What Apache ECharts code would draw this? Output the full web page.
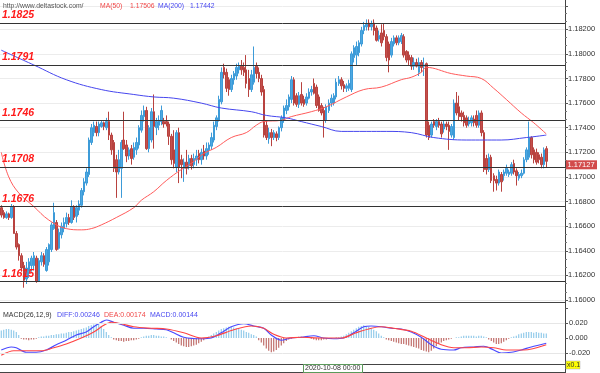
<!DOCTYPE html>
<html><head><meta charset="utf-8">
<script src="https://cdn.jsdelivr.net/npm/echarts@6/dist/echarts.min.js"></script>
<style>html,body{margin:0;padding:0;background:#fff}#c{width:600px;height:373px}</style>
</head><body><div id="c"></div>
<script>
// [open, close, low, high]
const candles = [
[1.1675,1.1669,1.1667,1.1677],[1.1671,1.1667,1.1666,1.1673],[1.1667,1.1670,1.1666,1.1672],[1.1670,1.1667,1.1665,1.1671],
[1.1667,1.1676,1.1666,1.1678],[1.1676,1.1654,1.1654,1.1677],[1.1654,1.1643,1.1641,1.1656],[1.1645,1.1636,1.1632,1.1646],
[1.1636,1.1626,1.1623,1.1638],[1.1628,1.1616,1.1610,1.1631],[1.1617,1.1626,1.1613,1.1631],[1.1623,1.1631,1.1618,1.1634],
[1.1628,1.1634,1.1623,1.1636],[1.1628,1.1636,1.1624,1.1639],[1.1634,1.1615,1.1614,1.1636],[1.1615,1.1632,1.1615,1.1634],
[1.1631,1.1636,1.1628,1.1639],[1.1636,1.1629,1.1627,1.1638],[1.1624,1.1641,1.1623,1.1643],[1.1631,1.1645,1.1628,1.1646],
[1.1641,1.1661,1.1639,1.1663],[1.1658,1.1671,1.1657,1.1679],[1.1663,1.1641,1.1640,1.1665],[1.1642,1.1655,1.1641,1.1658],
[1.1653,1.1660,1.1650,1.1663],[1.1658,1.1663,1.1655,1.1667],[1.1662,1.1667,1.1659,1.1671],[1.1667,1.1663,1.1661,1.1670],
[1.1663,1.1676,1.1662,1.1681],[1.1676,1.1667,1.1665,1.1677],[1.1668,1.1675,1.1663,1.1677],[1.1673,1.1678,1.1669,1.1681],
[1.1677,1.1689,1.1675,1.1691],[1.1688,1.1696,1.1685,1.1699],[1.1695,1.1704,1.1693,1.1707],[1.1702,1.1730,1.1700,1.1732],
[1.1728,1.1740,1.1726,1.1743],[1.1736,1.1742,1.1733,1.1745],[1.1741,1.1736,1.1733,1.1745],[1.1736,1.1743,1.1733,1.1745],
[1.1741,1.1744,1.1740,1.1746],[1.1744,1.1741,1.1738,1.1745],[1.1740,1.1745,1.1738,1.1748],[1.1745,1.1734,1.1730,1.1753],
[1.1734,1.1722,1.1718,1.1736],[1.1728,1.1707,1.1704,1.1730],[1.1714,1.1704,1.1683,1.1718],[1.1704,1.1714,1.1702,1.1722],
[1.1707,1.1728,1.1683,1.1730],[1.1730,1.1723,1.1722,1.1753],[1.1726,1.1717,1.1712,1.1730],[1.1717,1.1722,1.1714,1.1724],
[1.1723,1.1715,1.1710,1.1726],[1.1716,1.1724,1.1714,1.1728],[1.1722,1.1728,1.1718,1.1732],[1.1726,1.1740,1.1723,1.1742],
[1.1738,1.1750,1.1736,1.1754],[1.1749,1.1754,1.1745,1.1758],[1.1754,1.1723,1.1722,1.1757],[1.1723,1.1740,1.1720,1.1742],
[1.1730,1.1753,1.1728,1.1756],[1.1753,1.1741,1.1723,1.1767],[1.1740,1.1745,1.1734,1.1748],[1.1742,1.1746,1.1738,1.1750],
[1.1745,1.1754,1.1742,1.1758],[1.1745,1.1743,1.1740,1.1748],[1.1745,1.1743,1.1741,1.1750],[1.1743,1.1733,1.1726,1.1745],
[1.1733,1.1714,1.1710,1.1735],[1.1722,1.1711,1.1707,1.1738],[1.1708,1.1736,1.1704,1.1738],[1.1736,1.1708,1.1695,1.1740],
[1.1714,1.1710,1.1699,1.1718],[1.1707,1.1712,1.1696,1.1715],[1.1712,1.1707,1.1702,1.1722],[1.1709,1.1715,1.1706,1.1718],
[1.1715,1.1709,1.1706,1.1718],[1.1710,1.1715,1.1707,1.1719],[1.1714,1.1717,1.1709,1.1722],[1.1719,1.1714,1.1711,1.1722],
[1.1714,1.1720,1.1710,1.1723],[1.1721,1.1717,1.1714,1.1726],[1.1717,1.1723,1.1714,1.1728],[1.1722,1.1726,1.1718,1.1728],
[1.1725,1.1732,1.1722,1.1736],[1.1730,1.1742,1.1728,1.1745],[1.1741,1.1748,1.1738,1.1750],[1.1746,1.1763,1.1745,1.1766],
[1.1761,1.1785,1.1759,1.1789],[1.1789,1.1783,1.1780,1.1792],[1.1785,1.1772,1.1769,1.1788],[1.1779,1.1771,1.1766,1.1781],
[1.1771,1.1780,1.1769,1.1783],[1.1779,1.1784,1.1775,1.1786],[1.1782,1.1789,1.1779,1.1792],[1.1787,1.1790,1.1784,1.1793],
[1.1790,1.1787,1.1783,1.1795],[1.1789,1.1785,1.1782,1.1793],[1.1787,1.1776,1.1772,1.1799],[1.1780,1.1771,1.1765,1.1787],
[1.1771,1.1783,1.1769,1.1787],[1.1777,1.1789,1.1775,1.1806],[1.1790,1.1784,1.1780,1.1793],[1.1785,1.1780,1.1777,1.1789],
[1.1780,1.1769,1.1766,1.1783],[1.1771,1.1734,1.1732,1.1774],[1.1742,1.1732,1.1730,1.1746],[1.1731,1.1736,1.1727,1.1740],
[1.1736,1.1732,1.1725,1.1739],[1.1732,1.1736,1.1730,1.1738],[1.1735,1.1732,1.1729,1.1737],[1.1732,1.1740,1.1730,1.1741],
[1.1740,1.1748,1.1737,1.1750],[1.1746,1.1756,1.1744,1.1758],[1.1754,1.1758,1.1751,1.1763],[1.1757,1.1765,1.1754,1.1767],
[1.1763,1.1779,1.1760,1.1782],[1.1779,1.1760,1.1758,1.1781],[1.1766,1.1759,1.1757,1.1768],[1.1759,1.1766,1.1756,1.1769],
[1.1767,1.1760,1.1758,1.1777],[1.1763,1.1759,1.1757,1.1766],[1.1760,1.1765,1.1758,1.1768],[1.1764,1.1769,1.1763,1.1772],
[1.1769,1.1771,1.1766,1.1774],[1.1776,1.1768,1.1767,1.1780],[1.1773,1.1758,1.1756,1.1775],[1.1765,1.1754,1.1753,1.1767],
[1.1758,1.1752,1.1750,1.1760],[1.1754,1.1746,1.1732,1.1757],[1.1746,1.1757,1.1744,1.1759],[1.1754,1.1760,1.1752,1.1763],
[1.1760,1.1764,1.1757,1.1767],[1.1760,1.1766,1.1758,1.1768],[1.1765,1.1777,1.1763,1.1780],[1.1776,1.1779,1.1774,1.1782],
[1.1779,1.1774,1.1771,1.1781],[1.1775,1.1772,1.1769,1.1778],[1.1772,1.1774,1.1769,1.1776],[1.1772,1.1776,1.1770,1.1779],
[1.1771,1.1800,1.1769,1.1802],[1.1797,1.1805,1.1793,1.1807],[1.1799,1.1806,1.1791,1.1810],[1.1801,1.1809,1.1798,1.1811],
[1.1808,1.1819,1.1806,1.1822],[1.1819,1.1823,1.1816,1.1826],[1.1822,1.1824,1.1819,1.1828],[1.1825,1.1822,1.1819,1.1828],
[1.1822,1.1824,1.1819,1.1827],[1.1825,1.1819,1.1815,1.1828],[1.1821,1.1811,1.1810,1.1823],[1.1812,1.1815,1.1810,1.1819],
[1.1817,1.1809,1.1806,1.1824],[1.1819,1.1814,1.1811,1.1825],[1.1814,1.1797,1.1794,1.1816],[1.1808,1.1795,1.1785,1.1810],
[1.1799,1.1810,1.1797,1.1813],[1.1808,1.1813,1.1806,1.1815],[1.1813,1.1809,1.1807,1.1815],[1.1809,1.1813,1.1807,1.1815],
[1.1810,1.1815,1.1808,1.1817],[1.1814,1.1799,1.1797,1.1816],[1.1802,1.1795,1.1793,1.1803],[1.1799,1.1795,1.1791,1.1802],
[1.1797,1.1790,1.1787,1.1799],[1.1790,1.1793,1.1787,1.1797],[1.1793,1.1790,1.1789,1.1796],[1.1785,1.1793,1.1782,1.1797],
[1.1793,1.1789,1.1785,1.1795],[1.1790,1.1791,1.1782,1.1797],[1.1792,1.1734,1.1732,1.1793],[1.1742,1.1732,1.1730,1.1745],
[1.1734,1.1743,1.1732,1.1745],[1.1745,1.1742,1.1740,1.1747],[1.1741,1.1745,1.1738,1.1747],[1.1745,1.1742,1.1740,1.1748],
[1.1743,1.1735,1.1732,1.1745],[1.1739,1.1743,1.1736,1.1746],[1.1743,1.1741,1.1738,1.1745],[1.1742,1.1737,1.1722,1.1745],
[1.1734,1.1741,1.1732,1.1743],[1.1732,1.1760,1.1730,1.1763],[1.1760,1.1752,1.1750,1.1769],[1.1757,1.1749,1.1746,1.1766],
[1.1752,1.1749,1.1745,1.1754],[1.1750,1.1744,1.1741,1.1753],[1.1748,1.1742,1.1740,1.1750],[1.1743,1.1746,1.1741,1.1749],
[1.1744,1.1748,1.1741,1.1750],[1.1747,1.1744,1.1741,1.1750],[1.1750,1.1742,1.1740,1.1754],[1.1742,1.1752,1.1740,1.1754],
[1.1752,1.1736,1.1733,1.1754],[1.1736,1.1706,1.1704,1.1738],[1.1715,1.1706,1.1702,1.1718],[1.1706,1.1716,1.1704,1.1719],
[1.1716,1.1697,1.1695,1.1718],[1.1701,1.1697,1.1688,1.1703],[1.1698,1.1695,1.1689,1.1701],[1.1695,1.1704,1.1693,1.1706],
[1.1702,1.1696,1.1688,1.1704],[1.1701,1.1704,1.1697,1.1706],[1.1703,1.1707,1.1701,1.1710],[1.1702,1.1704,1.1700,1.1706],
[1.1703,1.1710,1.1701,1.1712],[1.1711,1.1704,1.1702,1.1714],[1.1705,1.1701,1.1693,1.1707],[1.1699,1.1702,1.1697,1.1704],
[1.1701,1.1703,1.1699,1.1706],[1.1703,1.1714,1.1702,1.1716],[1.1714,1.1722,1.1712,1.1724],[1.1716,1.1732,1.1714,1.1745],
[1.1732,1.1718,1.1715,1.1733],[1.1722,1.1714,1.1711,1.1724],[1.1720,1.1712,1.1710,1.1723],[1.1718,1.1714,1.1711,1.1720],
[1.1716,1.1710,1.1707,1.1719],[1.1710,1.1722,1.1707,1.1724],[1.1723,1.17127,1.1708,1.1725]
];
const ma50Points = [[0,1.1720],[3,1.1700],[7,1.1687],[13,1.1676],[19,1.1665],[26,1.1658],[32,1.1657],[36,1.1658],[40,1.1661],[46,1.1667],[53,1.1675],[56,1.1681],[61,1.1688],[66,1.1697],[72,1.1706],[76,1.1711],[81,1.1719],[86,1.1724],[92,1.1732],[98,1.1736],[102,1.1742],[105,1.1745],[112,1.1746],[116,1.1749],[124,1.1753],[130,1.1757],[138,1.1765],[145,1.1771],[152,1.1773],[160,1.1779],[164,1.1781],[168,1.1785],[170,1.1789],[180,1.1784],[186,1.1782],[192,1.1780],[197,1.1772],[202,1.1763],[208,1.1752],[213,1.1744],[218,1.1735]];
const ma200Points = [[0,1.1803],[13,1.1791],[26,1.1779],[40,1.1771],[53,1.1767],[61,1.1765],[69,1.1764],[80,1.1760],[88,1.1756],[100,1.1753],[106,1.1750],[114,1.1748],[120,1.1745],[128,1.1741],[136,1.1737],[146,1.1737],[154,1.1737],[164,1.1736],[173,1.1732],[186,1.1730],[200,1.1730],[210,1.1732],[218,1.1734]];
const levels = [1.1825, 1.1791, 1.1746, 1.1708, 1.1676, 1.1615];
const lastPrice = 1.17127;
// MACD pane, values in x0.1 display units
const diffPoints = [[0,-0.016],[4,-0.012],[6,-0.013],[10,-0.019],[14,-0.019],[18,-0.016],[22,-0.009],[26,-0.003],[30,0.004],[34,0.008],[37,0.015],[40,0.021],[42,0.024],[45,0.021],[49,0.017],[53,0.013],[57,0.013],[62,0.012],[66,0.011],[69,0.007],[73,0.001],[80,-0.001],[84,0.000],[88,0.007],[92,0.015],[97,0.019],[101,0.016],[105,0.013],[108,0.004],[112,-0.003],[116,0.000],[120,0.001],[125,0.003],[129,0.000],[133,-0.001],[137,0.000],[141,0.007],[145,0.015],[148,0.016],[152,0.015],[156,0.013],[160,0.012],[164,0.008],[168,0.001],[172,-0.009],[176,-0.015],[181,-0.016],[184,-0.013],[189,-0.012],[193,-0.011],[197,-0.016],[200,-0.020],[204,-0.019],[208,-0.016],[212,-0.012],[218,-0.007]];
const deaPoints = [[0,-0.023],[5,-0.017],[10,-0.017],[16,-0.017],[21,-0.013],[26,-0.008],[32,0.000],[37,0.008],[41,0.017],[44,0.021],[48,0.019],[53,0.015],[60,0.013],[66,0.012],[73,0.007],[80,0.000],[86,0.003],[93,0.011],[100,0.016],[105,0.013],[109,0.005],[114,0.000],[120,0.001],[128,0.000],[136,0.000],[142,0.007],[148,0.013],[152,0.015],[157,0.013],[164,0.009],[170,0.000],[176,-0.009],[181,-0.013],[186,-0.013],[192,-0.012],[197,-0.013],[202,-0.016],[209,-0.016],[218,-0.009]];
const macdHist = [
0.010,0.011,0.012,0.012,0.011,0.010,0.008,0.004,
-0.001,-0.002,-0.002,-0.003,-0.002,-0.002,-0.001,
0.001,0.002,0.002,0.003,0.003,0.004,0.004,0.005,0.005,0.006,0.006,0.007,0.008,0.008,0.009,0.010,0.011,0.012,0.013,0.014,0.016,0.017,0.018,0.019,0.020,
0.016,0.012,0.008,0.004,0.001,
-0.002,-0.003,-0.004,-0.004,-0.005,-0.004,-0.004,-0.003,-0.003,-0.002,-0.001,
0.001,0.002,0.003,0.003,0.004,0.004,0.003,0.003,0.002,0.002,0.001,0.000,
-0.002,-0.004,-0.006,-0.008,-0.010,-0.011,-0.012,-0.012,-0.011,-0.010,-0.009,-0.007,-0.005,-0.003,-0.001,
0.002,0.004,0.006,0.008,0.010,0.012,0.013,0.014,0.015,0.015,0.014,0.013,0.012,0.011,0.010,0.008,0.007,0.005,0.004,0.002,
-0.003,-0.006,-0.010,-0.014,-0.017,-0.019,-0.018,-0.016,-0.013,-0.010,-0.007,-0.004,-0.002,
-0.001,0.000,0.001,0.002,0.002,0.001,0.001,0.000,-0.001,-0.002,-0.003,-0.003,-0.003,-0.002,-0.002,-0.001,-0.001,0.000,0.001,0.001,0.002,0.003,
0.005,0.007,0.009,0.011,0.013,0.015,0.016,0.017,0.016,0.015,0.013,0.011,0.009,0.006,0.003,
0.001,
-0.002,-0.003,-0.004,-0.005,-0.006,-0.007,-0.008,-0.008,-0.009,-0.010,-0.011,-0.012,-0.013,-0.014,-0.016,-0.017,-0.018,-0.019,-0.017,
-0.014,-0.011,-0.008,-0.006,-0.004,-0.003,-0.002,-0.001,0.000,0.001,0.001,
0.002,0.003,0.003,0.003,0.003,0.003,0.002,0.003,0.003,0.002,0.001,
-0.002,-0.004,-0.006,-0.008,-0.008,-0.007,-0.005,-0.003,
-0.001,0.001,
0.002,0.003,0.005,0.006,0.007,0.008,0.008,0.008,0.007,0.008,0.007,0.007,0.006,0.006
];
const headerTexts = {site:'http://www.deltastock.com/', ma50:'MA(50)', ma50v:'1.17506', ma200:'MA(200)', ma200v:'1.17442'};
const macdTexts = {name:'MACD(26,12,9)', diff:'DIFF:0.00246', dea:'DEA:0.00174', macd:'MACD:0.00144'};
const timeLabel = '2020-10-08 00:00';

const slots = 226;
const categories = Array.from({length: slots}, (_, i) => 'c' + i);
const FONT = 'Liberation Sans';
const chart = echarts.init(document.getElementById('c'), null, {renderer: 'canvas'});
const txt = (x, y, s, color, size) => ({type:'text', left:x, top:y, silent:true, z:10,
  style:{text:s, fill:color, font:(size || 6.8) + 'px "' + FONT + '"'}});
chart.setOption({
  animation: false,
  textStyle: {fontFamily: FONT},
  grid: [
    {left: 0, top: 6, width: 565, height: 294},
    {left: 0, top: 302, width: 565, height: 66}
  ],
  xAxis: [
    {type:'category', gridIndex:0, data:categories, boundaryGap:true, axisLine:{show:false}, axisTick:{show:false}, axisLabel:{show:false}, splitLine:{show:false}},
    {type:'category', gridIndex:1, data:categories, boundaryGap:true, axisLine:{show:false}, axisTick:{show:false}, axisLabel:{show:false}, splitLine:{show:false}}
  ],
  yAxis: [
    {type:'value', gridIndex:0, position:'right', min:1.16, max:1.18389, interval:0.002, scale:true,
     axisLine:{show:false}, axisTick:{show:true, length:3, lineStyle:{color:'#555'}},
     minorTick:{show:true, splitNumber:3, length:2, lineStyle:{color:'#777'}},
     axisLabel:{margin:3, fontSize:7.5, color:'#333', showMaxLabel:false, formatter:v => v > 1.1835 ? '' : v.toFixed(5)},
     splitLine:{show:true, lineStyle:{color:'#ececec', width:1}}},
    {type:'value', gridIndex:1, position:'right', min:-0.04, max:0.048, interval:0.02,
     axisLine:{show:false}, axisTick:{show:true, length:3, lineStyle:{color:'#555'}},
     axisLabel:{margin:4, fontSize:7.5, color:'#333', showMaxLabel:false,
       formatter:v => (Math.abs(v) < 1e-9 || Math.abs(Math.abs(v) - 0.02) < 1e-9) ? v.toFixed(3) : ''},
     splitLine:{show:false}}
  ],
  series: [
    {type:'candlestick', xAxisIndex:0, yAxisIndex:0, data:candles, barWidth:2, z:3,
     itemStyle:{color:'#4ea9e2', color0:'#c4504c', borderColor:'#3d9bd8', borderColor0:'#b8423f', borderWidth:1},
     markLine:{silent:true, symbol:'none', animation:false, precision:5,
       data: levels.map(v => ({yAxis:v, lineStyle:{color:'#333', width:1, type:'solid'},
         label:{show:true, position:'insideStartTop', distance:[2,2], formatter:v.toFixed(4),
           color:'#ff1a1a', fontWeight:'bold', fontStyle:'italic', fontSize:10.5, fontFamily:FONT}}))}},
    {type:'line', xAxisIndex:0, yAxisIndex:0, data:ma50Points, smooth:0.4, showSymbol:false, z:4,
     lineStyle:{color:'#ff5a5a', width:1}},
    {type:'line', xAxisIndex:0, yAxisIndex:0, data:ma200Points, smooth:0.4, showSymbol:false, z:4,
     lineStyle:{color:'#4646ee', width:1}},
    {type:'bar', xAxisIndex:1, yAxisIndex:1, data:macdHist, barWidth:1,
     itemStyle:{color: p => p.value >= 0 ? '#7cc0e6' : '#b5524e'},
     markLine:{silent:true, symbol:'none', label:{show:false}, lineStyle:{color:'#e6e6e6', width:1, type:'solid'},
       data:[{yAxis:0.02},{yAxis:-0.02}]}},
    {type:'line', xAxisIndex:1, yAxisIndex:1, data:diffPoints, smooth:0.3, showSymbol:false, z:4,
     lineStyle:{color:'#4a4aff', width:1.2}},
    {type:'line', xAxisIndex:1, yAxisIndex:1, data:deaPoints, smooth:0.3, showSymbol:false, z:4,
     lineStyle:{color:'#ff4444', width:1.2}}
  ]
});
const priceY = chart.convertToPixel({yAxisIndex: 0}, lastPrice);
chart.setOption({
  graphic: [
    {type:'line', silent:true, shape:{x1:565.5, y1:0, x2:565.5, y2:373}, style:{stroke:'#444', lineWidth:1}},
    {type:'line', silent:true, shape:{x1:0, y1:302.5, x2:566, y2:302.5}, style:{stroke:'#444', lineWidth:1}},
    {type:'line', silent:true, shape:{x1:0, y1:364.5, x2:566, y2:364.5}, style:{stroke:'#444', lineWidth:1}},
    {type:'line', silent:true, shape:{x1:0, y1:372.5, x2:566, y2:372.5}, style:{stroke:'#444', lineWidth:1}},
    txt(3, 2.5, headerTexts.site, '#555'),
    txt(100, 2.5, headerTexts.ma50, '#f04848'),
    txt(130, 2.5, headerTexts.ma50v, '#f04848'),
    txt(158, 2.5, headerTexts.ma200, '#4848f0'),
    txt(190, 2.5, headerTexts.ma200v, '#4848f0'),
    txt(3, 311.5, macdTexts.name, '#333', 7),
    txt(57, 311.5, macdTexts.diff, '#4848f0', 7),
    txt(104, 311.5, macdTexts.dea, '#f04848', 7),
    txt(150, 311.5, macdTexts.macd, '#4848f0', 7),
    {type:'rect', silent:true, z:10, shape:{x:566, y:priceY - 1, width:31, height:9}, style:{fill:'#d24b4b'}},
    {type:'text', silent:true, z:11, left:567.5, top:priceY - 0.5, style:{text:lastPrice.toFixed(5), fill:'#fff', font:'7.5px "' + FONT + '"'}},
    {type:'rect', silent:true, z:10, shape:{x:303.5, y:364.5, width:59, height:8}, style:{fill:'#fff', stroke:'#5a9a5a', lineWidth:1}},
    txt(305, 365, timeLabel, '#333', 7),
    {type:'rect', silent:true, z:10, shape:{x:566, y:361, width:14, height:8}, style:{fill:'#ffff00', stroke:'#aaa', lineWidth:0.5}},
    txt(567, 361.5, 'x0.1', '#333', 7)
  ]
});
</script></body></html>
